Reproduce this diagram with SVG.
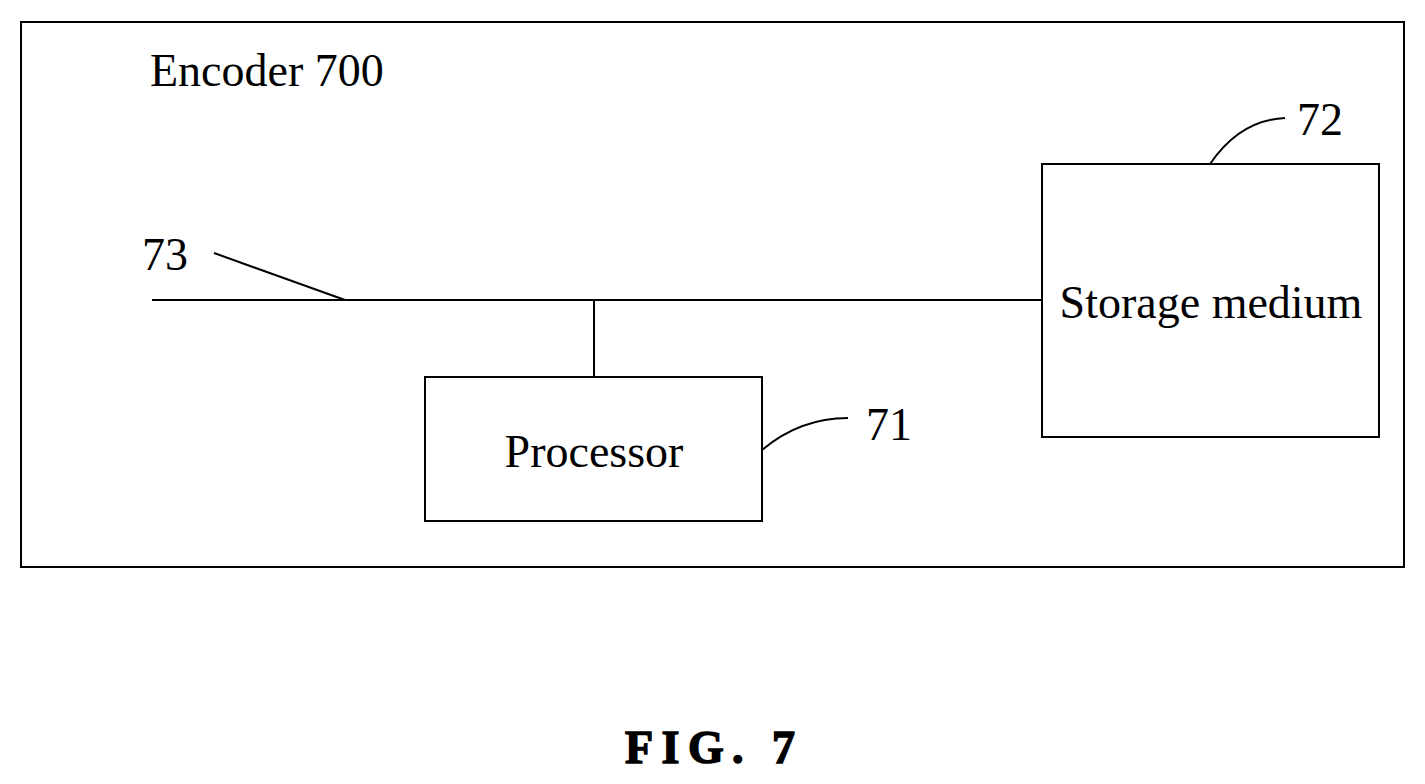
<svg xmlns="http://www.w3.org/2000/svg" width="1425" height="784" viewBox="0 0 1425 784">
<style>
.b{fill:none;stroke:#000;stroke-width:2}
.t{font-family:"Liberation Serif",serif;font-size:46px;fill:#000}
</style>
<rect width="1425" height="784" fill="#fff"/>
<g id="encoder"><rect class="b" x="21" y="22" width="1383" height="545"/><text class="t" x="150" y="86">Encoder 700</text></g>
<g id="storage"><rect class="b" x="1042" y="164" width="337" height="273"/><text class="t" x="1211" y="318" text-anchor="middle">Storage medium</text></g>
<g id="processor"><rect class="b" x="425" y="377" width="337" height="144"/><text class="t" x="594" y="467" text-anchor="middle">Processor</text></g>
<g id="connectors">
<path class="b" d="M152 300H1042M594 300V377M214 253L345 300M762 450Q800 418 848 418M1210 164Q1240 120 1285 118"/>
</g>
<g id="labels">
<text class="t" x="142" y="270">73</text>
<text class="t" x="866" y="440">71</text>
<text class="t" x="1297" y="135">72</text>
<text class="t" x="711" y="763" text-anchor="middle" font-weight="bold" font-size="66" stroke="#000" stroke-width="1.5" letter-spacing="2" textLength="172" lengthAdjust="spacing">FIG. 7</text>
</g>
</svg>
